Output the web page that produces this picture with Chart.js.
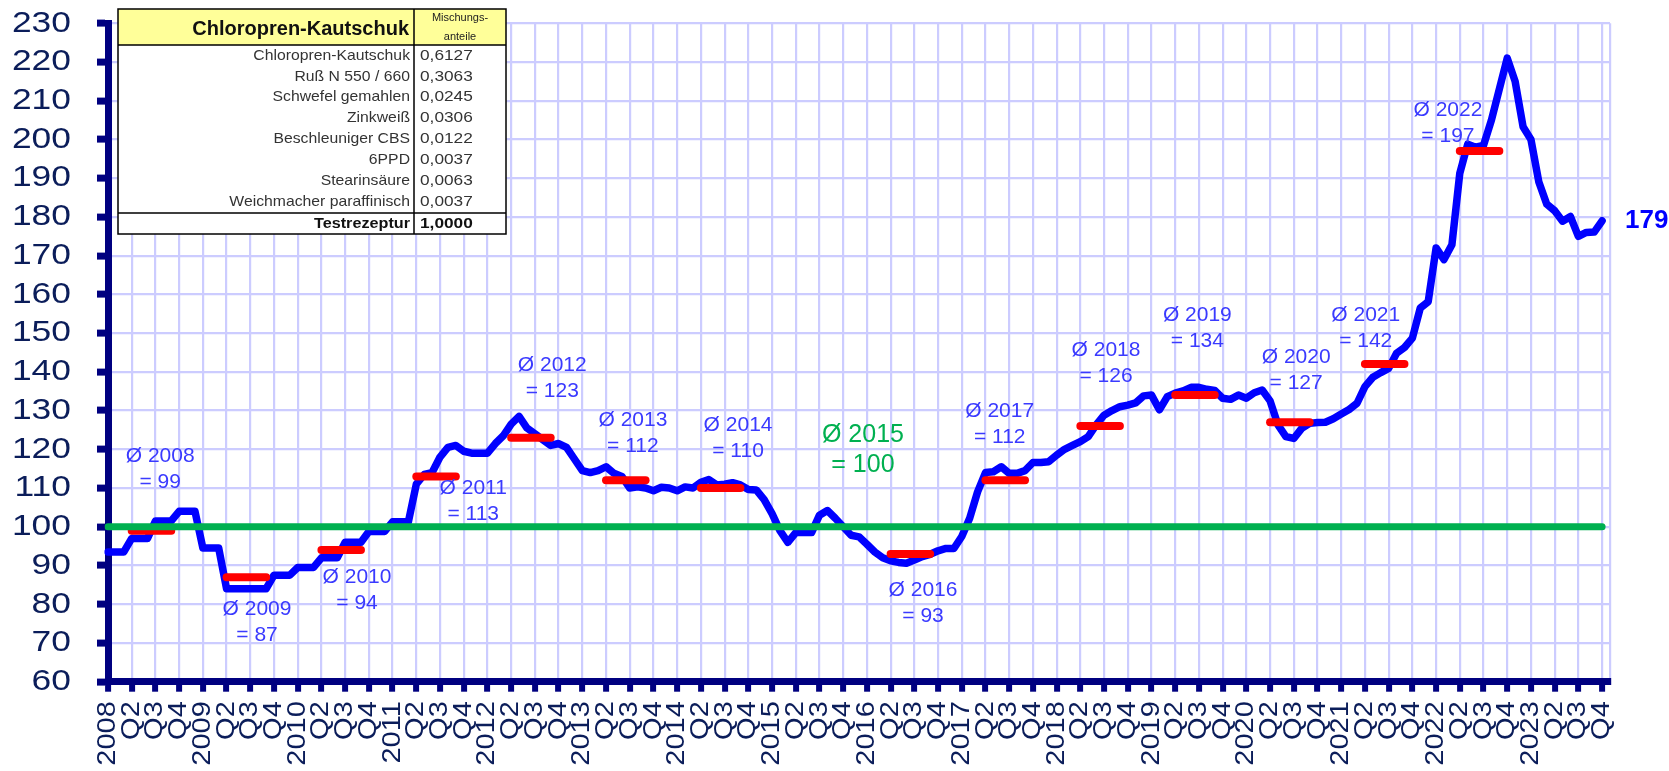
<!DOCTYPE html>
<html>
<head>
<meta charset="utf-8">
<script src="https://cdn.jsdelivr.net/npm/chart.js@4.4.0/dist/chart.umd.min.js"></script>
<style>
html,body{margin:0;padding:0;background:#ffffff;overflow:hidden;}
canvas{display:block;}
</style>
</head>
<body>
<canvas id="chart" width="1669" height="771"></canvas>
<script>
// ---------- data ----------
const years = [2008, 2009, 2010, 2011, 2012, 2013, 2014, 2015, 2016, 2017, 2018, 2019, 2020, 2021, 2022, 2023];
const quarterNames = ['', 'Q2', 'Q3', 'Q4'];
const yTicks = [60, 70, 80, 90, 100, 110, 120, 130, 140, 150, 160, 170, 180, 190, 200, 210, 220, 230];

const v2008 = [93.5, 93.5, 93.5, 97, 97, 97, 101.5, 101.5, 101.5, 104, 104, 104];
const v2009 = [94.5, 94.5, 94.5, 84, 84, 84, 84, 84, 84, 87.5, 87.5, 87.5];
const v2010 = [89.5, 89.5, 89.5, 92, 92, 92, 96, 96, 96, 98.8, 98.8, 98.8];
const v2011 = [101.3, 101.3, 101.3, 111, 113.5, 114, 118, 120.5, 121, 119.5, 119, 119];
const v2012 = [119, 121.5, 123.5, 126.5, 128.5, 125.5, 124, 122.5, 121, 121.5, 120.5, 117.5];
const v2013 = [114.5, 114, 114.5, 115.5, 113.8, 113, 110, 110.3, 110, 109.3, 110.2, 110];
const v2014 = [109.3, 110.3, 110, 111.5, 112.2, 110.8, 111, 111.4, 110.8, 109.6, 109.5, 107];
const v2015 = [103.4, 99, 96, 98.5, 98.5, 98.5, 103, 104.2, 102.2, 100, 97.8, 97.4];
const v2016 = [95.5, 93.5, 92, 91.2, 90.8, 90.6, 91.4, 92.3, 92.9, 93.8, 94.4, 94.4];
const v2017 = [97.5, 102.2, 109, 114, 114.2, 115.5, 113.8, 113.8, 114.5, 116.6, 116.6, 116.8];
const v2018 = [118.5, 120, 121, 122, 123.3, 126.3, 128.8, 130, 131, 131.4, 132, 133.8];
const v2019 = [134, 130.2, 133.6, 134.5, 135.1, 136, 136, 135.5, 135.2, 133.2, 132.9, 134];
const v2020 = [133.2, 134.6, 135.3, 132.5, 126.3, 123.3, 122.8, 125.4, 126.7, 126.9, 127, 127.9];
const v2021 = [129.1, 130.3, 131.9, 136.2, 138.6, 139.8, 140.9, 144.8, 146.3, 148.7, 156.5, 158.1];
const v2022 = [172, 169, 172.8, 191.3, 198.8, 198, 198.5, 205, 213, 221, 215, 203.3];
const v2023 = [200, 189, 183.3, 181.6, 178.9, 180.1, 175, 176, 176.1, 179];

const averageYears  = [2008, 2009, 2010, 2011, 2012, 2013, 2014, 2015, 2016, 2017, 2018, 2019, 2020, 2021, 2022];
const averageValues = [99, 87, 94, 113, 123, 112, 110, 100, 93, 112, 126, 134, 127, 142, 197];
const baseYear = 2015;
const baseValue = 100;

// label anchor points (month index, index level) of the yearly-average notes
const noteMonth = [6.6, 18.85, 31.5, 46.2, 56.2, 66.4, 79.7, 95.5, 103.1, 112.8, 126.25, 137.8, 150.3, 159.1, 169.5];
const noteLevel = [118.3, 78.8, 87.0, 110.0, 141.8, 127.6, 126.2, 123.7, 83.7, 129.9, 145.7, 154.7, 143.8, 154.7, 207.6];

const tableTitle = 'Chloropren-Kautschuk';
const tableHead = ['Mischungs-', 'anteile'];
const tableItems = ['Chloropren-Kautschuk', 'Ruß N 550 / 660', 'Schwefel gemahlen', 'Zinkweiß', 'Beschleuniger CBS', '6PPD', 'Stearinsäure', 'Weichmacher paraffinisch'];
const tableShares = ['0,6127', '0,3063', '0,0245', '0,0306', '0,0122', '0,0037', '0,0063', '0,0037'];
const tableTotal = ['Testrezeptur', '1,0000'];

// ---------- derived ----------
const series = [].concat(v2008, v2009, v2010, v2011, v2012, v2013, v2014, v2015, v2016, v2017, v2018, v2019, v2020, v2021, v2022, v2023);
const months = [];
const tickText = [];
years.forEach(yr => {
  for (let m = 1; m <= 12; m++) {
    months.push(yr + '-' + String(m).padStart(2, '0'));
    tickText.push((m - 1) % 3 === 0 ? ((m === 1) ? String(yr) : quarterNames[(m - 1) / 3]) : '');
  }
});
const axisCount = series.length + 1;       // axis runs one month beyond the last value
months.length = axisCount;
tickText.length = axisCount;
const lastIdx = series.length - 1;

const FONT = '"Liberation Sans", Arial, Helvetica, sans-serif';
const NAVY = '#000080';
const LABEL = '#0b1d5a';
const GRID = '#ccccff';

const datasets = [];
datasets.push({
  label: 'Index', data: series, borderColor: '#0000ff', borderWidth: 7.5,
  pointRadius: 0, tension: 0, borderJoinStyle: 'round', borderCapStyle: 'round', order: 3, fill: false
});
averageYears.forEach((yr, i) => {
  if (yr === baseYear) return;
  const s = (yr - years[0]) * 12;
  datasets.push({
    label: 'Ø ' + yr, data: [{x: months[s + 3], y: averageValues[i]}, {x: months[s + 8], y: averageValues[i]}],
    borderColor: '#ff0000', borderWidth: 8, pointRadius: 0, borderCapStyle: 'round', order: 2, fill: false
  });
});
datasets.push({
  label: 'Basis', data: [{x: months[0], y: baseValue}, {x: months[lastIdx], y: baseValue}],
  borderColor: '#00b050', borderWidth: 7, pointRadius: 0, borderCapStyle: 'round', order: 1, fill: false
});

function stretchText(ctx, text, x, y, font, color, align, sx) {
  ctx.save();
  ctx.font = font; ctx.fillStyle = color; ctx.textAlign = align; ctx.textBaseline = 'middle';
  ctx.translate(x, y); ctx.scale(sx, 1);
  ctx.fillText(text, 0, 0);
  ctx.restore();
}

const overlay = {
  id: 'overlay',
  afterDraw(chart) {
    const ctx = chart.ctx;
    const xs = chart.scales.x, ys = chart.scales.y;

    // y axis labels
    ys.ticks.forEach(t => {
      stretchText(ctx, String(t.value), 71, ys.getPixelForValue(t.value), '30px ' + FONT, LABEL, 'right', 1.18);
    });
    // x axis labels (rotated)
    xs.ticks.forEach((t, i) => {
      const txt = tickText[i];
      if (!txt) return;
      const px = xs.getPixelForTick(i);
      ctx.save();
      ctx.translate(px, xs.top + 19.5);
      ctx.rotate(-Math.PI / 2);
      ctx.scale(1, 0.88);
      ctx.font = '29px ' + FONT; ctx.fillStyle = LABEL; ctx.textAlign = 'right'; ctx.textBaseline = 'middle';
      ctx.fillText(txt, 0, 0);
      ctx.restore();
    });

    // yearly average notes
    averageYears.forEach((yr, i) => {
      const px = xs.getPixelForValue(noteMonth[i]);
      const py = ys.getPixelForValue(noteLevel[i]);
      const isBase = yr === baseYear;
      const font = (isBase ? '25px ' : '21px ') + FONT;
      const col = isBase ? '#00b050' : '#3a3aff';
      stretchText(ctx, 'Ø ' + yr, px, py, font, col, 'center', 1);
      stretchText(ctx, '= ' + averageValues[i], px, py + (isBase ? 30 : 26), font, col, 'center', 1);
    });
    // last value
    const lx = xs.getPixelForValue(lastIdx), ly = ys.getPixelForValue(series[lastIdx]);
    stretchText(ctx, String(Math.round(series[lastIdx])), lx + 23, ly, 'bold 26px ' + FONT, '#0000ff', 'left', 1);

    // recipe table
    const tL = 118, tT = 9, tR = 506, tB = 234, tDiv = 414, tHead = 45, tSep = 213;
    ctx.save();
    ctx.fillStyle = '#ffffff'; ctx.fillRect(tL, tT, tR - tL, tB - tT);
    ctx.fillStyle = '#ffff99'; ctx.fillRect(tL, tT, tR - tL, tHead - tT);
    ctx.strokeStyle = '#000000'; ctx.lineWidth = 1.5;
    ctx.strokeRect(tL, tT, tR - tL, tB - tT);
    ctx.beginPath();
    ctx.moveTo(tL, tHead); ctx.lineTo(tR, tHead);
    ctx.moveTo(tL, tSep); ctx.lineTo(tR, tSep);
    ctx.moveTo(tDiv, tT); ctx.lineTo(tDiv, tB);
    ctx.stroke();
    ctx.restore();
    stretchText(ctx, tableTitle, tDiv - 5, 29, 'bold 20px ' + FONT, '#111111', 'right', 1.0);
    stretchText(ctx, tableHead[0], (tDiv + tR) / 2, 18, '10px ' + FONT, '#222222', 'center', 1.1);
    stretchText(ctx, tableHead[1], (tDiv + tR) / 2, 37, '10px ' + FONT, '#222222', 'center', 1.1);
    tableItems.forEach((t, i) => {
      const yy = 55.5 + i * 20.9;
      stretchText(ctx, t, tDiv - 4, yy, '15px ' + FONT, '#333333', 'right', 1.05);
      stretchText(ctx, tableShares[i], 420, yy, '15px ' + FONT, '#333333', 'left', 1.15);
    });
    stretchText(ctx, tableTotal[0], tDiv - 4, 223.5, 'bold 15px ' + FONT, '#111111', 'right', 1.08);
    stretchText(ctx, tableTotal[1], 420, 223.5, 'bold 15px ' + FONT, '#111111', 'left', 1.15);
  }
};

const isQuarter = i => i % 3 === 0;

new Chart(document.getElementById('chart').getContext('2d'), {
  type: 'line',
  data: { labels: months, datasets: datasets },
  plugins: [overlay],
  options: {
    responsive: false,
    animation: false,
    devicePixelRatio: 1,
    layout: { padding: { top: 23.3, right: 59, left: 0, bottom: 0 } },
    plugins: { legend: { display: false }, tooltip: { enabled: false } },
    scales: {
      x: {
        type: 'category',
        offset: false,
        afterFit: s => { s.height = 89.3; s.paddingLeft = 0; s.paddingRight = 0; },
        border: { display: true, color: NAVY, width: 7 },
        grid: {
          drawOnChartArea: true,
          color: c => (isQuarter(c.index) || c.index === axisCount - 1) ? GRID : 'rgba(0,0,0,0)',
          lineWidth: 2.2,
          tickColor: c => (isQuarter(c.index)) ? NAVY : 'rgba(0,0,0,0)',
          tickWidth: 6,
          tickLength: 10
        },
        ticks: { display: false, autoSkip: false }
      },
      y: {
        min: yTicks[0], max: yTicks[yTicks.length - 1],
        afterFit: s => { s.width = 108; s.paddingTop = 0; s.paddingBottom = 0; },
        afterBuildTicks: s => { s.ticks = yTicks.map(v => ({ value: v })); },
        border: { display: true, color: NAVY, width: 7 },
        grid: { color: GRID, lineWidth: 2.2, tickColor: NAVY, tickWidth: 7, tickLength: 11 },
        ticks: { display: false, autoSkip: false }
      }
    }
  }
});
</script>
</body>
</html>
